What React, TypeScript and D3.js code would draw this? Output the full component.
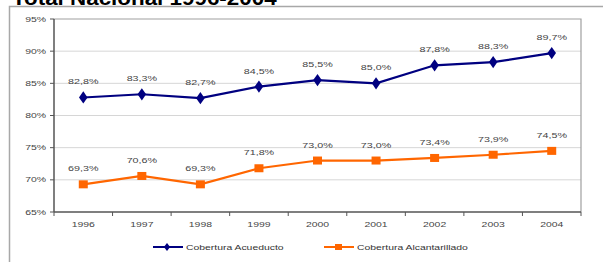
import { useEffect, useRef } from 'react';
import * as d3 from 'd3';

const years = ['1996', '1997', '1998', '1999', '2000', '2001', '2002', '2003', '2004'];
const acueducto = [82.8, 83.3, 82.7, 84.5, 85.5, 85.0, 87.8, 88.3, 89.7];
const alcantarillado = [69.3, 70.6, 69.3, 71.8, 73.0, 73.0, 73.4, 73.9, 74.5];
const yTicks = [65, 70, 75, 80, 85, 90, 95];
const seriesNames = ['Cobertura Acueducto', 'Cobertura Alcantarillado'];

const W = 603;
const H = 262;
const FONT = 'Arial, "Liberation Sans", sans-serif';

export default function App() {
  const ref = useRef<SVGSVGElement>(null);

  useEffect(() => {
    if (!ref.current) return;
    const svg = d3.select(ref.current);
    svg.selectAll('*').remove();

    const left = 54, right = 581, top = 19, bottom = 212;

    const x = d3.scaleBand<string>().domain(years).range([left, right]).padding(0);
    const y = d3.scaleLinear().domain([65, 95]).range([bottom, top]);
    const fmt = (v: number) => v.toFixed(1).replace('.', ',') + '%';

    // title, mostly cut off by the top edge
    svg.append('text')
      .attr('transform', 'translate(12,5) scale(1.12,1)')
      .attr('font-family', FONT)
      .attr('font-weight', 'bold')
      .attr('font-size', 20)
      .attr('fill', '#000')
      .text('Total Nacional 1996-2004');

    // outer frame
    svg.append('rect')
      .attr('x', 9.5).attr('y', 6.5)
      .attr('width', 700).attr('height', 400)
      .attr('fill', 'none')
      .attr('stroke', '#a8a8a8')
      .attr('stroke-width', 1.5);

    // gridlines
    svg.append('g')
      .selectAll('line')
      .data(yTicks.filter(t => t > 65 && t < 95))
      .join('line')
      .attr('x1', left).attr('x2', right)
      .attr('y1', d => y(d)).attr('y2', d => y(d))
      .attr('stroke', '#d6d6d6')
      .attr('stroke-width', 1);

    // plot border top/right
    svg.append('path')
      .attr('d', `M${left},${top}H${right}V${bottom}`)
      .attr('fill', 'none')
      .attr('stroke', '#a0a0a0')
      .attr('stroke-width', 1.2);

    // y axis
    const yAxis = svg.append('g');
    yAxis.append('line')
      .attr('x1', left).attr('x2', left).attr('y1', top).attr('y2', bottom)
      .attr('stroke', '#555').attr('stroke-width', 1.5);
    yAxis.selectAll('line.tick')
      .data(yTicks)
      .join('line')
      .attr('class', 'tick')
      .attr('x1', left - 4).attr('x2', left)
      .attr('y1', d => y(d)).attr('y2', d => y(d))
      .attr('stroke', '#555');
    yAxis.selectAll('text')
      .data(yTicks)
      .join('text')
      .attr('transform', d => `translate(${left - 8},${y(d) + 2.5}) scale(1.45,1)`)
      .attr('text-anchor', 'end')
      .attr('font-family', FONT)
      .attr('font-size', 7.2)
      .attr('fill', '#444')
      .text(d => d + '%');

    // x axis
    const xAxis = svg.append('g');
    xAxis.append('line')
      .attr('x1', left).attr('x2', right).attr('y1', bottom).attr('y2', bottom)
      .attr('stroke', '#555').attr('stroke-width', 1.5);
    const bounds = years.map(d => x(d) as number).concat([right]);
    xAxis.selectAll('line.tick')
      .data(bounds)
      .join('line')
      .attr('class', 'tick')
      .attr('x1', d => d).attr('x2', d => d)
      .attr('y1', bottom).attr('y2', bottom + 4)
      .attr('stroke', '#555');
    xAxis.selectAll('text')
      .data(years)
      .join('text')
      .attr('transform', d => `translate(${(x(d) as number) + x.bandwidth() / 2},${bottom + 15}) scale(1.45,1)`)
      .attr('text-anchor', 'middle')
      .attr('font-family', FONT)
      .attr('font-size', 7.2)
      .attr('fill', '#444')
      .text(d => d);

    const cx = (i: number) => (x(years[i]) as number) + x.bandwidth() / 2;
    const line = d3.line<number>().x((_, i) => cx(i)).y(d => y(d));

    const diamond = d3.symbol().type(d3.symbolDiamond).size(48);

    // acueducto
    svg.append('path')
      .datum(acueducto)
      .attr('d', line)
      .attr('fill', 'none')
      .attr('stroke', '#000080')
      .attr('stroke-width', 2.2);
    svg.append('g')
      .selectAll('path')
      .data(acueducto)
      .join('path')
      .attr('d', diamond as any)
      .attr('transform', (d, i) => `translate(${cx(i)},${y(d)}) scale(1.15,0.95)`)
      .attr('fill', '#000080');
    svg.append('g')
      .selectAll('text')
      .data(acueducto)
      .join('text')
      .attr('transform', (d, i) => `translate(${cx(i)},${y(d) - 13}) scale(1.45,1)`)
      .attr('text-anchor', 'middle')
      .attr('font-family', FONT)
      .attr('font-size', 7.4)
      .attr('fill', '#444')
      .text(d => fmt(d));

    // alcantarillado
    svg.append('path')
      .datum(alcantarillado)
      .attr('d', line)
      .attr('fill', 'none')
      .attr('stroke', '#ff6600')
      .attr('stroke-width', 2.2);
    svg.append('g')
      .selectAll('rect')
      .data(alcantarillado)
      .join('rect')
      .attr('x', (d, i) => cx(i) - 4.5)
      .attr('y', d => y(d) - 4)
      .attr('width', 9).attr('height', 8)
      .attr('fill', '#ff6600');
    svg.append('g')
      .selectAll('text')
      .data(alcantarillado)
      .join('text')
      .attr('transform', (d, i) => `translate(${cx(i)},${y(d) - 13}) scale(1.45,1)`)
      .attr('text-anchor', 'middle')
      .attr('font-family', FONT)
      .attr('font-size', 7.4)
      .attr('fill', '#444')
      .text(d => fmt(d));

    // legend
    const ly = 247;
    const legend = [
      { name: seriesNames[0], color: '#000080', x0: 153, shape: 'diamond' },
      { name: seriesNames[1], color: '#ff6600', x0: 324, shape: 'square' },
    ];
    legend.forEach(l => {
      const g = svg.append('g');
      g.append('line')
        .attr('x1', l.x0).attr('x2', l.x0 + 30)
        .attr('y1', ly).attr('y2', ly)
        .attr('stroke', l.color).attr('stroke-width', 2);
      if (l.shape === 'diamond') {
        g.append('path')
          .attr('d', d3.symbol().type(d3.symbolDiamond).size(24)() as string)
          .attr('transform', `translate(${l.x0 + 14},${ly}) scale(1.2,0.9)`)
          .attr('fill', l.color);
      } else {
        g.append('rect')
          .attr('x', l.x0 + 11).attr('y', ly - 3)
          .attr('width', 7).attr('height', 6)
          .attr('fill', l.color);
      }
      g.append('text')
        .attr('transform', `translate(${l.x0 + 33},${ly + 3}) scale(1.3,1)`)
        .attr('font-family', FONT)
        .attr('font-size', 8)
        .attr('fill', '#333')
        .text(l.name);
    });
  }, []);

  return (
    <div style={{ position: 'fixed', left: 0, top: 0, width: W, height: H, background: '#fff' }}>
      <svg ref={ref} width={W} height={H} />
    </div>
  );
}
